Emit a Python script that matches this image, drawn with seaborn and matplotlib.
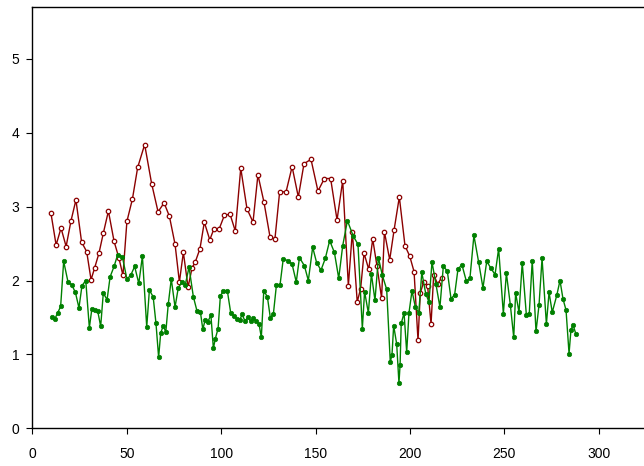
import matplotlib
matplotlib.use("Agg")
import matplotlib.pyplot as plt
import seaborn as sns
import pandas as pd

# ---- data ----
red_x = [9.8, 12.6, 15.2, 17.9, 20.5, 23.1, 26.1, 28.8, 31.1, 33.0, 35.3, 37.6, 40.3, 43.3, 45.8, 48.0,
         50.1, 53.0, 55.8, 59.5, 63.2, 66.6, 69.8, 72.6, 75.6, 77.9, 80.0, 82.5, 84.6, 86.3, 88.8, 91.1,
         94.0, 96.2, 99.0, 101.7, 104.7, 107.5, 110.4, 113.7, 116.9, 119.5, 122.7, 125.9, 128.5, 131.0,
         134.4, 137.6, 140.9, 143.9, 147.6, 151.3, 154.7, 158.0, 161.4, 164.4, 167.4, 169.5, 172.1, 173.9,
         175.7, 178.2, 180.3, 182.6, 185.0, 186.5, 189.3, 191.6, 194.4, 197.4, 199.9, 202.2, 204.3, 205.5,
         207.3, 209.4, 211.2, 212.6, 214.7, 216.8]
red_y = [2.92, 2.48, 2.71, 2.46, 2.81, 3.09, 2.52, 2.39, 2.01, 2.17, 2.37, 2.64, 2.94, 2.53, 2.31, 2.07,
         2.80, 3.10, 3.53, 3.84, 3.31, 2.93, 3.05, 2.87, 2.49, 1.98, 2.38, 1.91, 2.17, 2.25, 2.43, 2.79,
         2.55, 2.70, 2.70, 2.88, 2.90, 2.67, 3.52, 2.97, 2.79, 3.43, 3.06, 2.59, 2.56, 3.20,
         3.20, 3.54, 3.13, 3.58, 3.64, 3.21, 3.38, 3.38, 2.82, 3.35, 1.93, 2.66, 1.71, 1.89,
         2.37, 2.15, 2.56, 2.19, 1.76, 2.66, 2.28, 2.68, 3.13, 2.47, 2.33, 2.12, 1.19, 1.83,
         1.98, 1.92, 1.41, 2.08, 1.95, 2.04]

green_x = [10.3, 11.9, 13.4, 15.0, 16.6, 18.9, 20.9, 22.8, 24.7, 26.3, 28.3, 30.2, 31.5, 33.0, 34.6, 36.2,
           37.6, 39.6, 41.2, 43.3, 45.2, 47.7, 50.1, 52.1, 54.2, 56.4, 58.3, 60.6, 62.0, 64.0, 65.5, 66.9,
           68.0, 69.4, 70.7, 72.0, 73.6, 75.6, 77.3, 79.3, 81.0, 83.0, 85.3, 87.2, 89.0, 90.3, 91.5, 92.9,
           94.6, 95.9, 96.9, 98.4, 99.6, 101.2, 103.3, 105.1, 106.7, 108.3, 109.8, 111.1, 112.7, 114.2,
           115.7, 117.1, 118.6, 120.1, 121.3, 122.6, 124.5, 126.1, 127.7, 129.3, 131.2, 132.9, 135.3, 137.6,
           139.8, 141.5, 144.1, 146.2, 148.5, 150.6, 152.9, 155.2, 157.5, 160.0, 162.3, 164.4, 166.9, 170.0,
           172.5, 174.8, 176.0, 178.0, 179.6, 181.5, 183.3, 185.4, 187.7, 189.6, 190.5, 191.4, 193.0, 194.2,
           194.8, 195.4, 196.9, 198.3, 199.5, 201.1, 202.9, 204.7, 206.3, 208.4, 210.1, 211.7, 213.8, 215.9,
           217.7, 219.8, 221.8, 223.7, 225.5, 227.6, 229.9, 231.8, 233.9, 236.4, 238.7, 240.7, 242.8, 245.1,
           247.0, 249.5, 251.1, 253.2, 255.0, 256.0, 257.8, 259.5, 261.7, 263.2, 264.8, 266.8, 268.4, 270.0,
           272.3, 273.7, 275.4, 277.8, 279.5, 281.1, 282.7, 284.3, 285.3, 286.4, 288.0]
green_y = [1.50, 1.48, 1.56, 1.65, 2.26, 1.98, 1.94, 1.84, 1.63, 1.93, 2.00, 1.36, 1.61, 1.60, 1.59, 1.38,
           1.83, 1.74, 2.05, 2.19, 2.35, 2.32, 2.02, 2.07, 2.19, 1.96, 2.33, 1.37, 1.87, 1.78, 1.42, 0.96,
           1.29, 1.39, 1.30, 1.68, 2.02, 1.64, 1.90, 1.98, 1.94, 2.18, 1.78, 1.59, 1.58, 1.34, 1.46, 1.44,
           1.53, 1.08, 1.21, 1.35, 1.79, 1.86, 1.86, 1.56, 1.52, 1.48, 1.46, 1.54, 1.45, 1.50,
           1.45, 1.49, 1.45, 1.41, 1.23, 1.86, 1.78, 1.49, 1.55, 1.94, 1.94, 2.29, 2.27, 2.22,
           1.98, 2.31, 2.20, 2.00, 2.45, 2.24, 2.14, 2.30, 2.54, 2.38, 2.03, 2.47, 2.81, 2.60,
           2.49, 1.35, 1.85, 1.56, 2.09, 1.73, 2.31, 2.07, 1.88, 0.90, 0.99, 1.39, 1.14, 0.61,
           0.86, 1.42, 1.56, 1.03, 1.56, 1.86, 1.64, 1.56, 2.11, 1.82, 1.71, 2.25, 1.95, 1.64,
           2.19, 2.13, 1.75, 1.81, 2.16, 2.21, 1.99, 2.03, 2.61, 2.25, 1.90, 2.26, 2.17, 2.08,
           2.43, 1.55, 2.10, 1.67, 1.23, 1.83, 1.57, 2.24, 1.53, 1.54, 2.27, 1.31, 1.67, 2.30,
           1.41, 1.84, 1.57, 1.80, 2.00, 1.75, 1.60, 1.01, 1.33, 1.40, 1.27]

x_ticks = [0, 50, 100, 150, 200, 250, 300]
y_ticks = [0, 1, 2, 3, 4, 5]

# ---- style ----
sns.set_style("ticks")
plt.rcParams["font.family"] = ["Liberation Sans", "DejaVu Sans"]

fig = plt.figure(figsize=(6.44, 4.66), dpi=100)
ax = fig.add_axes([0.0502, 0.0809, 0.9498, 0.9047])

red_df = pd.DataFrame({"x": red_x, "y": red_y})
green_df = pd.DataFrame({"x": green_x, "y": green_y})

sns.lineplot(data=red_df, x="x", y="y", ax=ax, color="#8b0000", linewidth=1.0,
             marker="o", markersize=3.2, markerfacecolor="white",
             markeredgecolor="#8b0000", markeredgewidth=0.9, estimator=None)
sns.lineplot(data=green_df, x="x", y="y", ax=ax, color="#008000", linewidth=1.0,
             marker="o", markersize=3.2, markerfacecolor="#008000",
             markeredgecolor="#008000", markeredgewidth=0.5, estimator=None)

ax.set_xlim(0, 324)
ax.set_ylim(0, 5.705)
ax.set_xticks(x_ticks)
ax.set_yticks(y_ticks)
ax.set_xlabel("")
ax.set_ylabel("")

for side in ["left", "bottom", "top"]:
    ax.spines[side].set_visible(True)
    ax.spines[side].set_color("black")
    ax.spines[side].set_linewidth(1.0)
ax.spines["right"].set_visible(False)

ax.tick_params(axis="x", length=4.5, width=0.8, pad=9, labelsize=10, colors="black")
ax.tick_params(axis="y", length=4.5, width=0.8, pad=5, labelsize=10, colors="black")

fig.savefig("out.png", dpi=100)
